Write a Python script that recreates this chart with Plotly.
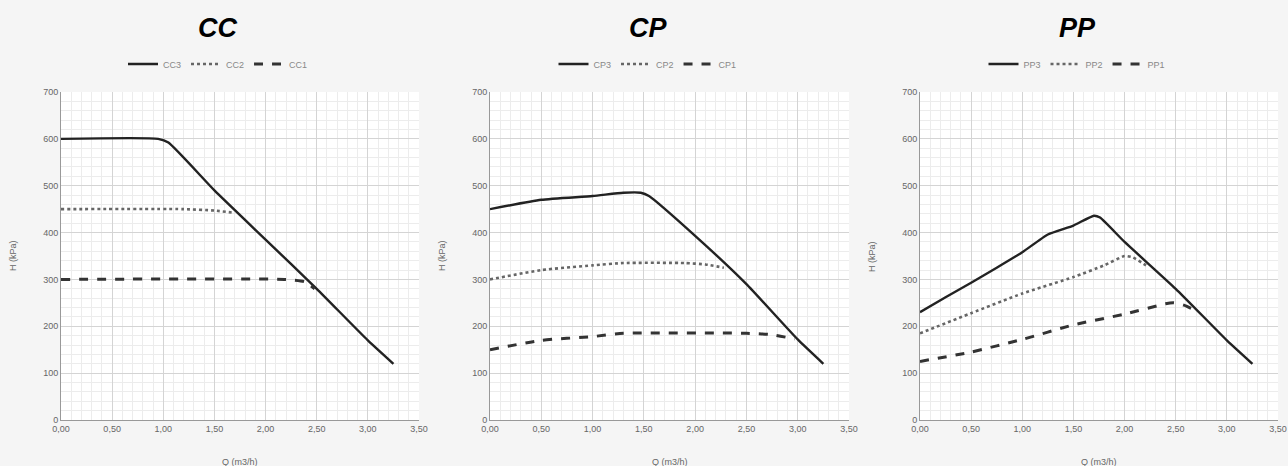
import plotly.graph_objects as go

# ---------------- data ----------------
panel_titles = ["CC", "CP", "PP"]

cc3_q = [0.00, 0.95, 1.05, 1.50, 2.00, 2.50, 3.00, 3.25]
cc3_h = [600, 600, 592, 490, 385, 280, 170, 120]
cc2_q = [0.00, 1.20, 1.50, 1.70]
cc2_h = [450, 450, 447, 442]
cc1_q = [0.00, 2.20, 2.38, 2.48]
cc1_h = [300, 300, 295, 280]

cp3_q = [0.00, 0.50, 1.00, 1.30, 1.47, 1.55, 2.00, 2.50, 3.00, 3.25]
cp3_h = [450, 470, 478, 485, 485, 478, 393, 290, 172, 120]
cp2_q = [0.00, 0.50, 1.00, 1.30, 1.90, 2.10, 2.28]
cp2_h = [300, 320, 330, 335, 335, 332, 325]
cp1_q = [0.00, 0.50, 1.00, 1.30, 2.50, 2.75, 2.97]
cp1_h = [150, 170, 178, 185, 185, 182, 173]

pp3_q = [0.00, 0.25, 0.50, 0.75, 1.00, 1.25, 1.50, 1.70, 1.76, 2.00, 2.50, 3.00, 3.25]
pp3_h = [230, 262, 293, 325, 358, 396, 415, 436, 432, 380, 280, 170, 120]
pp2_q = [0.00, 0.50, 1.00, 1.50, 1.80, 2.00, 2.08, 2.21]
pp2_h = [185, 228, 270, 305, 330, 350, 347, 330]
pp1_q = [0.00, 0.50, 1.00, 1.50, 2.00, 2.40, 2.48, 2.58, 2.71]
pp1_h = [125, 145, 172, 203, 226, 248, 250, 245, 232]

series = [
    [("CC3", cc3_q, cc3_h), ("CC2", cc2_q, cc2_h), ("CC1", cc1_q, cc1_h)],
    [("CP3", cp3_q, cp3_h), ("CP2", cp2_q, cp2_h), ("CP1", cp1_q, cp1_h)],
    [("PP3", pp3_q, pp3_h), ("PP2", pp2_q, pp2_h), ("PP1", pp1_q, pp1_h)],
]

x_tickvals = [0.0, 0.5, 1.0, 1.5, 2.0, 2.5, 3.0, 3.5]
x_ticktext = ["0,00", "0,50", "1,00", "1,50", "2,00", "2,50", "3,00", "3,50"]
y_tickvals = [0, 100, 200, 300, 400, 500, 600, 700]
y_ticktext = ["0", "100", "200", "300", "400", "500", "600", "700"]

x_title = "Q (m3/h)"
y_title = "H (kPa)"

# ---------------- layout ----------------
W, H = 1288, 466
x_px = [(61, 419), (490, 849), (920, 1278)]
y_px = (92, 420)

styles = [
    dict(color="#222222", width=2.4, dash="solid"),
    dict(color="#666666", width=2.6, dash="dot"),
    dict(color="#333333", width=3.0, dash="dash"),
]

fig = go.Figure()
layout = dict(
    width=W, height=H,
    margin=dict(l=0, r=0, t=0, b=0, autoexpand=False),
    paper_bgcolor="#f5f5f5",
    plot_bgcolor="#ffffff",
    font=dict(family="Liberation Sans, Arial, sans-serif", size=9, color="#666666"),
    annotations=[],
)

for i in range(3):
    ax = "" if i == 0 else str(i + 1)
    leg = "legend" if i == 0 else "legend" + str(i + 1)
    x0, x1 = x_px[i]
    for j, (name, q, h) in enumerate(series[i]):
        fig.add_trace(go.Scatter(
            x=q, y=h, name=name, mode="lines",
            line=dict(shape="spline", smoothing=0.5, **styles[j]),
            xaxis="x" + ax, yaxis="y" + ax, legend=leg,
        ))
    layout["xaxis" + ax] = dict(
        domain=[x0 / W, x1 / W], anchor="y" + ax,
        range=[0, 3.5], tickvals=x_tickvals, ticktext=x_ticktext,
        showgrid=True, gridcolor="#d4d4d4", gridwidth=1,
        minor=dict(dtick=0.1, showgrid=True, gridcolor="#ececec", gridwidth=1),
        showline=True, linecolor="#999999", linewidth=1,
        zeroline=False, ticks="", tickfont=dict(size=9, color="#666666"),
        automargin=False, fixedrange=True,
    )
    layout["yaxis" + ax] = dict(
        domain=[1 - y_px[1] / H, 1 - y_px[0] / H], anchor="x" + ax,
        range=[0, 700], tickvals=y_tickvals, ticktext=y_ticktext,
        showgrid=True, gridcolor="#d4d4d4", gridwidth=1,
        minor=dict(dtick=20, showgrid=True, gridcolor="#ececec", gridwidth=1),
        showline=True, linecolor="#999999", linewidth=1,
        zeroline=False, ticks="", tickfont=dict(size=9, color="#666666"),
        automargin=False, fixedrange=True,
    )
    cx = (x0 + x1) / 2 / W
    tx = ((x0 + x1) / 2 - 22) / W
    layout[leg] = dict(
        orientation="h", x=tx, xanchor="center", y=1 - 64 / H, yanchor="middle",
        bgcolor="rgba(0,0,0,0)", font=dict(size=9, color="#888888"),
        itemwidth=30, tracegroupgap=0,
    )
    layout["annotations"].append(dict(
        text="<b><i>" + panel_titles[i] + "</i></b>", x=tx, y=1 - 28 / H,
        xref="paper", yref="paper", xanchor="center", yanchor="middle",
        showarrow=False, font=dict(size=27, color="#000000", family="Liberation Sans, Arial, sans-serif"),
    ))
    # axis titles as annotations
    layout["annotations"].append(dict(
        text=x_title, x=cx, y=1 - 462 / H,
        xref="paper", yref="paper", xanchor="center", yanchor="middle",
        showarrow=False, font=dict(size=9, color="#666666"),
    ))
    layout["annotations"].append(dict(
        text=y_title, x=(x0 - 48) / W, y=1 - (y_px[0] + y_px[1]) / 2 / H,
        xref="paper", yref="paper", xanchor="center", yanchor="middle", textangle=-90,
        showarrow=False, font=dict(size=9, color="#666666"),
    ))

fig.update_layout(**layout)
fig.write_html(
    "out.html",
    config={"displayModeBar": False},
    post_script="document.body.style.margin='0';document.body.style.padding='0';document.body.style.overflow='hidden';",
)
